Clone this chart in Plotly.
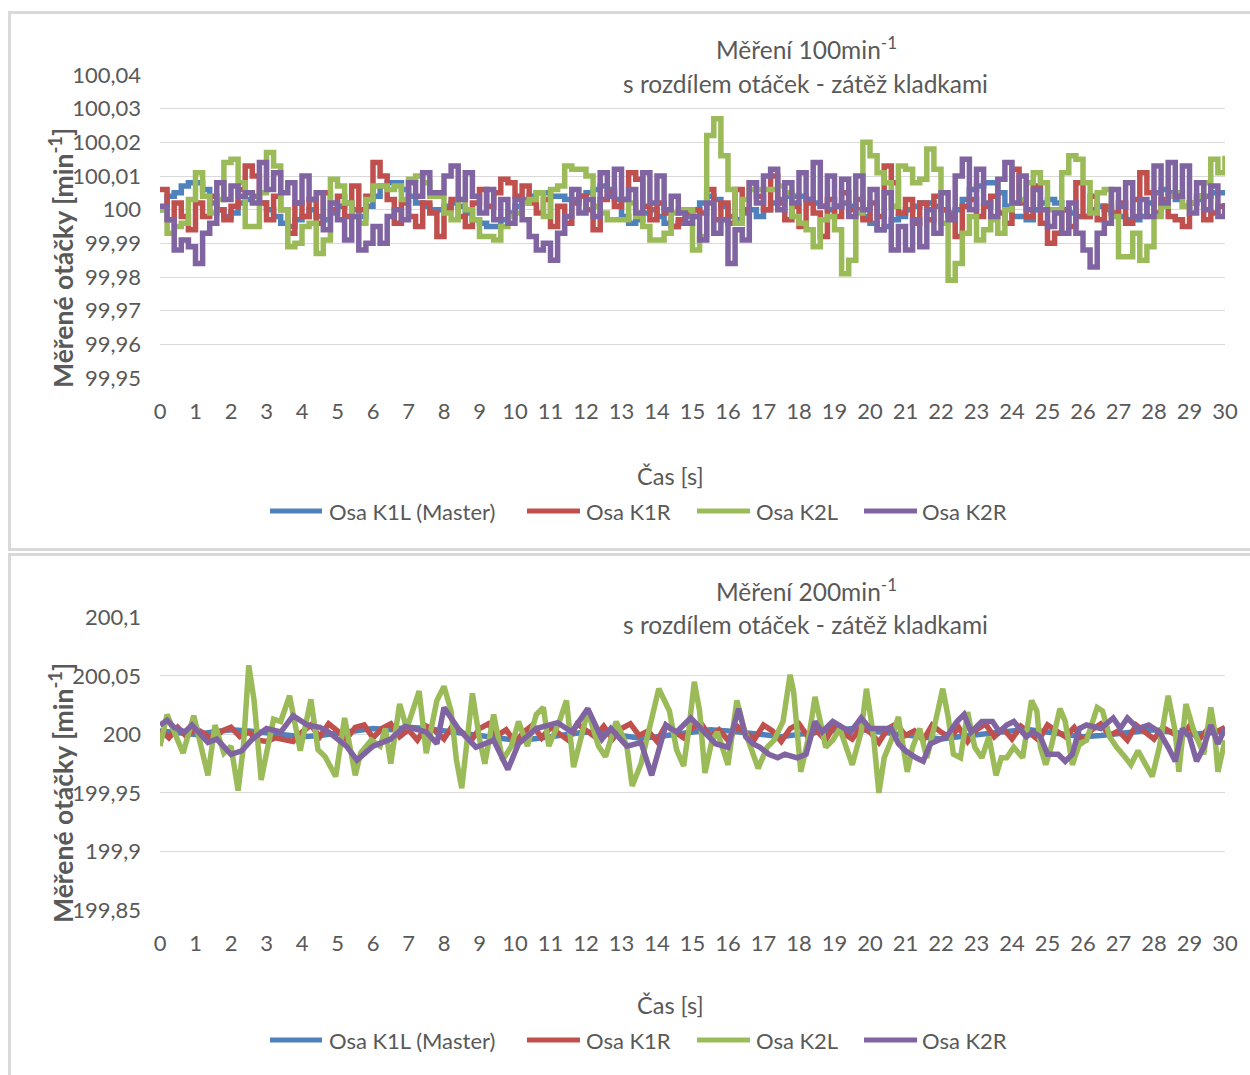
import numpy as np
import plotly.graph_objects as go

# ---------------- Measurement at 100 min^-1 (one sample every 0.2 s) ----------------
k1l_100 = [100.000, 100.004, 100.005, 100.007, 100.008, 100.008, 100.006, 100.002, 100.000, 99.998, 99.999, 100.002, 100.003, 100.004, 100.002, 100.000, 99.998, 99.996, 99.995, 99.997, 99.998, 100.000, 99.998, 99.997, 99.999, 100.001, 100.002, 100.000, 99.998, 100.001, 100.004, 100.007, 100.008, 100.008, 100.006, 100.004, 100.002, 100.001, 100.000,
           100.000, 100.001, 100.002, 100.001, 99.999, 99.997, 99.996, 99.995, 99.995, 99.997, 99.999, 100.001, 100.003, 100.004, 100.005, 100.005, 100.004, 100.004, 100.003, 100.003, 100.004, 100.005, 100.006, 100.007, 100.006, 100.003, 99.998, 99.996, 99.997, 99.999, 100.000, 99.998, 99.996, 99.995, 99.996, 99.998, 100.000,
           100.002, 100.004, 100.003, 100.001, 99.998, 99.997, 99.999, 100.000, 99.998, 100.000, 100.002, 100.003, 100.004, 100.004, 100.004, 100.003, 100.002, 100.001, 100.000, 100.001, 100.002, 100.001, 100.000, 99.998, 99.996, 99.994, 99.995, 99.997, 99.998, 100.000, 100.001, 100.002, 100.002, 100.001, 100.000, 99.999, 100.000,
           100.003, 100.006, 100.007, 100.008, 100.008, 100.005, 100.001, 99.998, 99.998, 99.997, 100.000, 100.002, 100.003, 100.002, 100.000, 99.999, 99.998, 99.998, 100.000, 100.001, 100.000, 99.999, 99.998, 99.997, 99.997, 99.998, 100.002, 100.005, 100.006, 100.005, 100.003, 100.001, 100.002, 100.003, 100.004, 100.005, 100.005, 100.005]
k1r_100 = [100.006, 99.997, 100.002, 99.998, 99.994, 100.002, 99.998, 100.004, 100.000, 99.997, 100.001, 100.006, 100.013, 100.010, 100.002, 99.997, 100.004, 100.000, 99.993, 100.002, 99.998, 100.003, 99.996, 100.005, 100.000, 100.004, 99.998, 100.007, 100.000, 100.004, 100.014, 100.010, 100.003, 99.996, 100.002, 99.998, 99.995, 100.002, 99.999,
           99.992, 100.000, 100.003, 99.998, 99.995, 100.002, 100.006, 100.001, 100.005, 100.009, 100.008, 100.004, 100.007, 100.002, 99.999, 100.003, 99.995, 100.001, 99.996, 100.002, 100.004, 100.000, 99.994, 100.003, 100.005, 100.001, 100.003, 100.011, 100.009, 100.001, 99.997, 100.002, 99.999, 99.995, 99.997, 99.999, 100.000,
           99.999, 100.006, 99.997, 100.002, 99.996, 100.006, 100.000, 100.008, 100.004, 100.000, 100.010, 100.002, 99.997, 100.001, 99.995, 100.002, 99.999, 99.992, 100.003, 99.998, 100.005, 100.000, 100.003, 99.997, 100.002, 99.998, 100.013, 100.008, 99.999, 100.003, 99.996, 100.002, 99.997, 100.004, 100.000, 99.998, 99.992,
           100.001, 100.003, 99.998, 100.001, 100.004, 99.999, 99.996, 100.012, 100.002, 99.998, 100.007, 99.996, 99.990, 99.993, 100.000, 99.995, 100.008, 99.998, 100.004, 99.997, 100.001, 99.999, 100.002, 99.996, 100.003, 100.011, 100.005, 99.999, 100.003, 99.998, 99.997, 99.995, 100.002, 100.004, 99.997, 99.999, 100.001, 99.998]
k2l_100 = [100.000, 99.993, 99.995, 99.996, 100.003, 100.011, 100.004, 99.999, 100.003, 100.014, 100.015, 100.008, 99.995, 99.995, 100.005, 100.017, 100.013, 100.000, 99.989, 99.990, 99.995, 99.996, 99.987, 99.991, 100.009, 100.007, 100.002, 99.998, 99.996, 100.003, 100.007, 100.007, 100.006, 100.007, 100.003, 100.009, 100.010, 100.008, 100.004,
           100.004, 99.999, 99.997, 100.003, 100.000, 99.997, 99.992, 99.992, 99.991, 99.995, 99.998, 99.999, 100.002, 100.003, 100.005, 99.998, 100.006, 100.007, 100.013, 100.012, 100.012, 100.010, 100.001, 99.999, 99.997, 99.997, 99.997, 100.002, 99.998, 99.995, 99.991, 99.991, 99.993, 99.999, 100.000, 100.000, 99.988,
           99.992, 100.022, 100.027, 100.016, 100.006, 99.996, 100.003, 100.006, 100.006, 100.006, 100.006, 100.007, 100.005, 99.998, 99.996, 99.994, 99.989, 99.997, 99.998, 99.994, 99.981, 99.985, 99.999, 100.020, 100.016, 100.011, 100.008, 100.001, 100.013, 100.012, 100.008, 100.009, 100.018, 100.012, 99.996, 99.979, 99.984,
           99.993, 99.998, 99.991, 99.994, 99.997, 99.993, 100.000, 100.002, 100.003, 100.008, 100.011, 100.008, 100.000, 100.000, 100.011, 100.016, 100.015, 100.008, 99.999, 100.005, 100.006, 99.998, 99.986, 99.986, 99.993, 99.985, 99.989, 99.998, 100.001, 100.004, 100.005, 100.001, 100.002, 100.004, 100.008, 100.015, 100.011, 100.016]
k2r_100 = [100.001, 99.997, 99.988, 99.991, 99.989, 99.984, 99.993, 99.996, 100.008, 100.003, 100.007, 100.004, 100.005, 100.002, 100.014, 100.006, 100.011, 100.005, 100.008, 100.002, 100.010, 100.003, 100.005, 99.994, 100.002, 99.997, 99.991, 99.998, 99.988, 99.990, 99.995, 99.990, 99.998, 100.000, 99.997, 100.008, 100.004, 100.011, 100.005,
           100.005, 100.010, 100.013, 100.003, 100.011, 100.004, 99.999, 100.006, 99.997, 100.003, 99.996, 100.003, 99.997, 99.992, 99.988, 99.990, 99.985, 99.993, 99.998, 100.006, 99.999, 100.003, 99.998, 100.011, 100.004, 100.012, 100.003, 100.006, 99.999, 100.011, 100.002, 100.010, 100.000, 100.004, 99.999, 99.996, 99.998,
           99.991, 100.002, 99.993, 99.997, 99.984, 99.994, 99.991, 100.008, 100.002, 100.010, 100.012, 100.000, 100.008, 100.002, 100.011, 100.003, 100.014, 100.001, 100.010, 100.001, 100.009, 99.998, 100.010, 100.000, 100.006, 99.994, 100.005, 99.988, 99.995, 99.988, 99.997, 99.989, 100.000, 99.993, 100.005, 99.997, 100.010,
           100.015, 100.000, 100.012, 100.002, 99.998, 100.009, 100.014, 100.002, 100.010, 100.000, 100.006, 100.000, 99.995, 99.999, 99.993, 100.002, 99.993, 99.988, 99.983, 99.993, 99.996, 100.006, 100.001, 100.008, 99.998, 100.003, 99.998, 100.013, 100.002, 100.014, 100.004, 100.013, 99.999, 100.008, 100.000, 100.007, 99.998, 100.002]

# ---------------- Measurement at 200 min^-1 ----------------
k1l_200 = [200.003, 200.001, 200.000, 200.002, 200.004, 200.003, 200.001, 200.000, 199.998, 199.999, 200.001,
           200.003, 200.005, 200.004, 200.006, 200.005, 200.003, 200.001, 199.999, 199.997, 199.995,
           199.996, 199.998, 200.000, 200.002, 200.001, 199.999, 199.997, 199.998, 200.000, 200.002,
           200.004, 200.003, 200.001, 199.999, 199.998, 200.000, 200.002, 200.004, 200.005, 200.003,
           200.001, 199.999, 199.997, 199.996, 199.998, 200.000, 200.002, 200.003, 200.004, 200.002,
           200.000, 199.998, 199.999, 200.001, 200.003, 200.004, 200.002, 200.000, 200.001, 200.003]
k1r_200 = [200.004, 199.997, 200.006, 199.998, 200.005, 200.000, 199.996, 200.003, 200.006, 199.998, 200.002,
           199.995, 199.994, 199.997, 199.995, 199.994, 200.002, 200.008, 199.998, 200.009, 200.003, 199.996,
           200.006, 200.008, 199.997, 200.005, 200.009, 199.998, 200.004, 199.995, 200.007, 200.003, 199.996,
           200.008, 200.002, 199.994, 200.005, 200.009, 199.999, 200.004, 199.993, 200.002, 200.008, 199.997,
           200.006, 200.001, 199.995, 200.009, 200.003, 199.998, 200.007, 199.996, 200.005, 200.009, 199.999,
           200.003, 199.994, 200.008, 200.002, 199.997, 200.006, 200.009, 199.998, 200.004, 199.995, 200.007,
           200.001, 199.996, 200.008, 200.003, 199.994, 200.005, 200.009, 199.998, 200.003, 199.995, 200.008,
           200.001, 199.996, 200.006, 200.002, 199.993, 200.005, 200.009, 199.999, 200.003, 199.995, 200.008,
           200.002, 199.997, 200.006, 199.994, 200.004, 200.009, 199.998, 200.005, 199.996, 200.007, 200.001,
           199.995, 200.008, 200.003, 199.998, 200.006, 199.994, 200.004, 200.009, 199.999, 200.003, 199.995,
           200.008, 200.002, 199.996, 200.006, 200.001, 199.997, 200.007, 199.995, 200.004, 200.002, 200.006]
k2l_200_t = [0.0, 0.2, 0.4, 0.65, 0.95, 1.35, 1.55, 1.8, 2.0, 2.2, 2.35, 2.5, 2.65, 2.85, 3.0, 3.2, 3.4, 3.65, 3.95, 4.25,
             4.45, 4.65, 4.95, 5.2, 5.5, 5.65, 5.95, 6.2, 6.35, 6.5, 6.75, 6.95, 7.3, 7.5, 7.8, 8.0, 8.2, 8.35, 8.5, 8.65,
             8.8, 9.0, 9.15, 9.4, 9.65, 9.9, 10.1, 10.35, 10.6, 10.8, 10.95, 11.25, 11.45, 11.65, 12.05, 12.35, 12.55, 12.85, 13.15, 13.3,
             13.55, 14.05, 14.35, 14.55, 14.75, 14.9, 15.05, 15.2, 15.35, 15.55, 15.7, 16.0, 16.25, 16.45, 16.65, 16.85, 17.1, 17.3, 17.55, 17.75,
             17.85, 18.05, 18.3, 18.45, 18.6, 18.75, 18.95, 19.15, 19.5, 19.75, 19.9, 20.1, 20.25, 20.4, 20.6, 20.8, 21.05, 21.2, 21.4, 21.6,
             21.8, 22.05, 22.2, 22.35, 22.55, 22.75, 22.95, 23.15, 23.35, 23.55, 23.7, 23.85, 24.05, 24.3, 24.55, 24.7, 24.8, 24.95, 25.1, 25.35,
             25.5, 25.7, 25.9, 26.1, 26.4, 26.55, 26.75, 26.95, 27.2, 27.35, 27.55, 27.75, 27.95, 28.15, 28.4, 28.6, 28.7, 28.9, 29.1, 29.4,
             29.6, 29.7, 29.8, 30.0]
k2l_200 = [199.990, 200.017, 200.002, 199.984, 200.016, 199.965, 200.008, 199.984, 199.990, 199.952, 199.990, 200.059, 200.029, 199.961, 199.984, 200.013, 200.011, 200.033, 199.986, 200.030,
           199.987, 199.981, 199.964, 200.014, 199.965, 199.984, 199.995, 199.990, 200.005, 199.975, 200.026, 200.005, 200.037, 199.984, 200.029, 200.041, 200.020, 199.978, 199.954, 199.990,
           200.035, 199.996, 199.975, 200.017, 199.978, 199.990, 200.011, 199.990, 200.017, 200.023, 199.990, 200.011, 200.029, 199.972, 200.020, 199.990, 199.981, 200.011, 199.990, 199.956,
           199.975, 200.039, 200.020, 199.987, 199.973, 200.005, 200.045, 200.020, 199.967, 199.995, 200.002, 199.974, 200.029, 200.005, 199.989, 199.971, 199.989, 199.995, 200.011, 200.051,
           200.036, 199.968, 200.002, 200.032, 200.011, 199.989, 199.995, 200.005, 199.974, 200.002, 200.039, 199.998, 199.950, 199.980, 199.995, 200.015, 199.968, 199.989, 200.005, 199.980,
           200.005, 200.039, 200.015, 199.983, 199.980, 200.019, 199.989, 199.980, 199.998, 199.965, 199.980, 199.980, 199.989, 199.980, 200.029, 200.020, 199.989, 199.974, 199.989, 200.022,
           200.011, 199.974, 199.992, 199.995, 200.023, 200.020, 199.998, 199.989, 199.980, 199.974, 199.986, 199.974, 199.964, 199.989, 200.033, 200.002, 199.968, 200.026, 200.005, 199.983,
           200.023, 200.005, 199.968, 199.995]
k2r_200_t = [0.0, 0.2, 0.4, 0.7, 0.9, 1.35, 1.6, 2.0, 2.3, 2.6, 3.0, 3.4, 3.75, 4.15, 4.5, 4.75, 5.25, 5.55, 6.0, 6.5,
             6.9, 7.5, 7.8, 8.0, 8.4, 8.9, 9.4, 9.8, 10.1, 10.6, 11.2, 11.6, 12.05, 12.45, 12.7, 13.15, 13.55, 13.85, 14.25, 14.55,
             14.95, 15.35, 15.65, 16.0, 16.3, 16.5, 16.7, 16.9, 17.15, 17.4, 17.6, 17.95, 18.2, 18.45, 18.65, 18.95, 19.25, 19.45, 19.75, 20.0,
             20.3, 20.6, 20.8, 21.0, 21.3, 21.5, 21.7, 21.9, 22.15, 22.45, 22.65, 22.85, 23.15, 23.45, 23.65, 23.85, 24.05, 24.4, 24.6, 24.8,
             25.0, 25.3, 25.5, 25.7, 25.9, 26.1, 26.5, 26.85, 27.05, 27.25, 27.55, 27.85, 28.15, 28.4, 28.6, 28.8, 29.0, 29.2, 29.4, 29.6,
             29.8, 30.0]
k2r_200 = [200.008, 200.012, 200.006, 200.002, 200.008, 199.993, 199.996, 199.983, 199.986, 199.996, 200.005, 200.002, 200.016, 200.008, 200.006, 200.002, 199.990, 199.978, 199.990, 199.996,
           200.007, 200.002, 199.992, 200.023, 200.005, 199.989, 199.995, 199.970, 199.992, 200.005, 200.010, 200.002, 200.022, 199.996, 200.005, 199.990, 199.993, 199.965, 200.008, 200.002,
           200.014, 200.002, 199.992, 199.989, 200.022, 199.998, 199.992, 199.989, 199.983, 199.980, 199.983, 199.980, 199.983, 200.011, 200.002, 200.011, 200.005, 200.002, 200.014, 200.005,
           200.005, 200.005, 199.992, 199.986, 199.980, 199.977, 199.992, 199.995, 199.998, 200.011, 200.017, 200.002, 200.011, 200.011, 200.002, 200.008, 200.011, 199.998, 200.002, 199.998,
           199.983, 199.983, 199.977, 199.983, 200.005, 200.008, 200.005, 200.014, 200.005, 200.014, 200.005, 200.008, 200.002, 199.989, 199.977, 200.005, 199.998, 199.977, 199.989, 200.008,
           199.992, 200.005]

# ---------------- Axis ticks and labels ----------------
y100_ticks = [99.95, 99.96, 99.97, 99.98, 99.99, 100.0, 100.01, 100.02, 100.03, 100.04]
y100_labels = ["99,95", "99,96", "99,97", "99,98", "99,99", "100", "100,01", "100,02", "100,03", "100,04"]
y200_ticks = [199.85, 199.9, 199.95, 200.0, 200.05, 200.1]
y200_labels = ["199,85", "199,9", "199,95", "200", "200,05", "200,1"]
x_ticks = list(range(0, 31))

series_names = ["Osa K1L (Master)", "Osa K1R", "Osa K2L", "Osa K2R"]
colors = ["#4F81BD", "#C0504D", "#9BBB59", "#8064A2"]

W, H = 1250, 1075
FONT = "Lato, 'Open Sans', sans-serif"
GREY = "#595959"
GRID = "#D9D9D9"


def px_x(x):
    return x / W


def px_y(y):
    return 1 - y / H


def sample_times(values):
    return np.linspace(0, 30, len(values))


fig = go.Figure()

top_series = [(sample_times(k1l_100), k1l_100), (sample_times(k1r_100), k1r_100),
              (sample_times(k2l_100), k2l_100), (sample_times(k2r_100), k2r_100)]
bottom_series = [(sample_times(k1l_200), k1l_200), (sample_times(k1r_200), k1r_200),
                 (k2l_200_t, k2l_200), (k2r_200_t, k2r_200)]

# The 100 min^-1 record is quantised (step-like), the 200 min^-1 record is smooth.
for (t, v), name, col in zip(top_series, series_names, colors):
    fig.add_trace(go.Scatter(x=t, y=v, mode="lines", name=name, showlegend=False,
                             line=dict(color=col, width=5.5, shape="hv"), xaxis="x", yaxis="y"))
for (t, v), name, col in zip(bottom_series, series_names, colors):
    fig.add_trace(go.Scatter(x=t, y=v, mode="lines", name=name, showlegend=False,
                             line=dict(color=col, width=5.5), xaxis="x2", yaxis="y2"))

tick_font = dict(family=FONT, size=22, color=GREY)

common_x = dict(range=[0, 30], tickmode="array", tickvals=x_ticks, ticktext=[str(v) for v in x_ticks],
                showgrid=False, zeroline=False, showline=False, ticks="", tickfont=tick_font,
                ticklabelstandoff=18, fixedrange=True, automargin=False)
common_y = dict(tickmode="array", showgrid=True, gridcolor=GRID, gridwidth=1.4, zeroline=False,
                showline=False, ticks="", tickfont=tick_font, ticklabelstandoff=18, fixedrange=True,
                automargin=False)

fig.update_layout(
    width=W, height=H, autosize=False,
    margin=dict(l=0, r=0, t=0, b=0, pad=0, autoexpand=False),
    paper_bgcolor="white", plot_bgcolor="white",
    font=dict(family=FONT, color=GREY),
    hovermode=False, showlegend=False,
    xaxis=dict(domain=[px_x(160), px_x(1225)], anchor="y", **common_x),
    yaxis=dict(domain=[px_y(378), px_y(75)], anchor="x", range=[99.95, 100.04],
               tickvals=y100_ticks, ticktext=y100_labels, **common_y),
    xaxis2=dict(domain=[px_x(160), px_x(1225)], anchor="y2", **common_x),
    yaxis2=dict(domain=[px_y(910), px_y(617.3)], anchor="x2", range=[199.85, 200.1],
                tickvals=y200_ticks, ticktext=y200_labels, **common_y),
)

# Panel frames
for y0, y1 in [(12.5, 549.5), (554.5, 1090)]:
    fig.add_shape(type="rect", xref="paper", yref="paper", x0=px_x(9.5), x1=px_x(1262),
                  y0=px_y(y1), y1=px_y(y0), line=dict(color=GRID, width=3),
                  fillcolor="rgba(0,0,0,0)", layer="below")

title_font = dict(family=FONT, size=24.5, color=GREY)
axis_title_font = dict(family=FONT, size=23.5, color=GREY)
ytitle_font = dict(family=FONT, size=26.5, color=GREY, weight="bold")
legend_font = dict(family=FONT, size=22, color=GREY)

# Legend entries: (line start, line end, text start)
legend_slots = [(270, 322, 327), (527, 580, 584), (697, 750, 754), (864, 917, 920)]

panels = [
    ("Měření 100min<sup>-1</sup>", 48, 83, 476, 258, 511),
    ("Měření 200min<sup>-1</sup>", 590, 624, 1005, 793, 1040),
]
for title, ty1, ty2, xt_y, yt_y, leg_y in panels:
    fig.add_annotation(text=title, x=px_x(807), y=px_y(ty1), xref="paper", yref="paper",
                       showarrow=False, xanchor="center", yanchor="middle", font=title_font)
    fig.add_annotation(text="s rozdílem otáček - zátěž kladkami", x=px_x(805), y=px_y(ty2),
                       xref="paper", yref="paper", showarrow=False, xanchor="center",
                       yanchor="middle", font=title_font)
    fig.add_annotation(text="Čas [s]", x=px_x(670), y=px_y(xt_y), xref="paper", yref="paper",
                       showarrow=False, xanchor="center", yanchor="middle", font=axis_title_font)
    fig.add_annotation(text="Měřené otáčky [min<sup>-1</sup>]", x=px_x(61), y=px_y(yt_y),
                       xref="paper", yref="paper", showarrow=False, textangle=-90,
                       xanchor="center", yanchor="middle", font=ytitle_font)
    for (lx0, lx1, tx), name, col in zip(legend_slots, series_names, colors):
        fig.add_shape(type="line", xref="paper", yref="paper", x0=px_x(lx0), x1=px_x(lx1),
                      y0=px_y(leg_y), y1=px_y(leg_y), line=dict(color=col, width=5))
        fig.add_annotation(text=name, x=px_x(tx), y=px_y(leg_y), xref="paper", yref="paper",
                           showarrow=False, xanchor="left", yanchor="middle", font=legend_font)

fig.write_html("out.html", config={"displayModeBar": False})
